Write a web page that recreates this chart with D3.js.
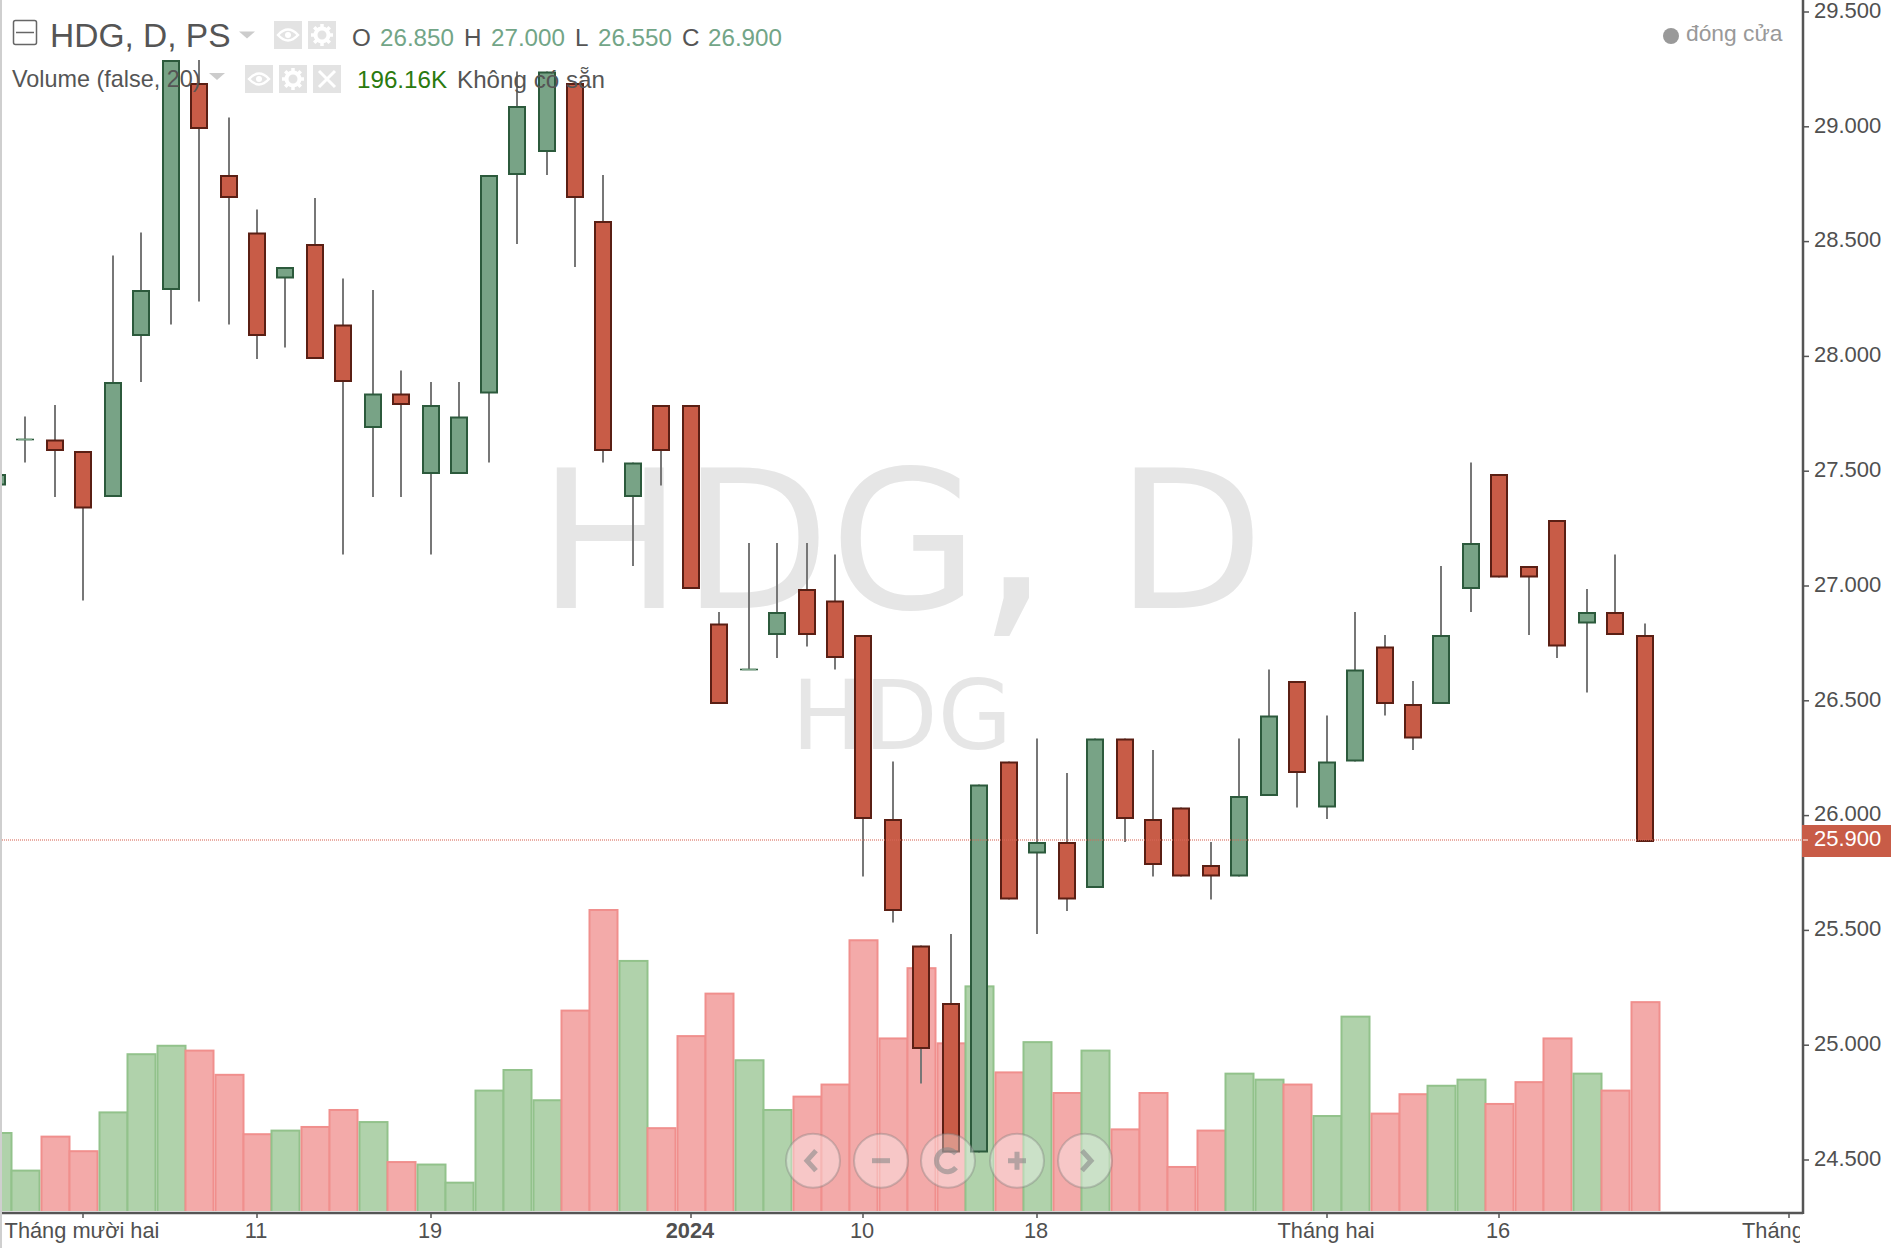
<!DOCTYPE html>
<html><head><meta charset="utf-8">
<script src="https://cdn.jsdelivr.net/npm/d3@7/dist/d3.min.js"></script>
<style>
html,body{margin:0;padding:0;background:#fff;overflow:hidden}
svg{display:block}
text{font-family:"Liberation Sans",Arial,sans-serif}
</style></head><body>
<svg id="c" width="1896" height="1248"></svg>
<script>
const opens  = [27.45,27.65,27.65,27.6,27.4,28.1,28.3,29.2,28.8,28.55,28.35,28.5,28.15,27.7,27.85,27.5,27.5,27.85,28.8,28.9,29.2,28.6,27.4,27.8,27.8,26.85,26.65,26.8,27.0,26.95,26.8,26.0,25.45,25.2,24.55,26.25,25.85,25.9,25.7,26.35,26.0,26.05,25.8,25.75,26.1,26.6,26.05,26.25,26.75,26.5,26.5,27.0,27.5,27.1,27.3,26.85,26.9,26.8];
const highs  = [27.5,27.75,27.8,27.6,28.45,28.55,29.3,29.3,29.05,28.65,28.4,28.7,28.35,28.3,27.95,27.9,27.9,28.8,29.25,29.25,29.2,28.8,27.55,27.8,27.8,26.9,27.2,27.2,27.2,27.15,26.8,26.25,25.45,25.5,26.15,26.25,26.35,26.2,26.35,26.35,26.3,26.05,25.9,26.35,26.65,26.6,26.45,26.9,26.8,26.6,27.1,27.55,27.5,27.1,27.3,27.0,27.15,26.85];
const lows   = [27.45,27.55,27.4,26.95,27.4,27.9,28.15,28.25,28.15,28.0,28.05,28.0,27.15,27.4,27.4,27.15,27.5,27.55,28.5,28.8,28.4,27.55,27.1,27.45,27.0,26.5,26.65,26.7,26.75,26.65,25.75,25.55,24.85,24.55,24.55,25.65,25.5,25.6,25.7,25.9,25.75,25.75,25.65,25.75,26.1,26.05,26.0,26.25,26.45,26.3,26.5,26.9,27.05,26.8,26.7,26.55,26.8,25.9];
const closes = [27.5,27.65,27.6,27.35,27.9,28.3,29.3,29.0,28.7,28.1,28.4,28.0,27.9,27.85,27.8,27.8,27.75,28.8,29.1,29.25,28.7,27.6,27.55,27.6,27.0,26.5,26.65,26.9,26.8,26.7,26.0,25.6,25.0,24.55,26.15,25.65,25.9,25.65,26.35,26.0,25.8,25.75,25.75,26.1,26.45,26.2,26.25,26.65,26.5,26.35,26.8,27.2,27.05,27.05,26.75,26.9,26.8,25.9];
const volumes = [112.6,59.7,107.5,87,141.6,223.5,235.4,228.6,194.5,110.9,116,121.1,145,128,71.7,68.2,42.7,172.3,201.3,158.7,284.9,426.5,354.8,119.4,249,308.8,215,145,163.8,180.8,383.9,245.7,344.6,238.8,319,197.9,240.5,168.9,228.6,117.7,168.9,64.8,116,196.16,187.7,180.8,136.5,276.4,139.9,167.2,179.1,187.7,153.5,184.2,245.7,196.16,172.3,296.8];
const priceTicks = [29.5,29,28.5,28,27.5,27,26.5,26,25.5,25,24.5];
const dateTickIndex = [3,9,15,24,30,36,46,52,62];
const dateTickLabels = ["Tháng mười hai","11","19","2024","10","18","Tháng hai","16","Tháng ba"];
const lastPrice = 25.9;
const legendO = "26.850", legendH = "27.000", legendL = "26.550", legendC = "26.900", legendV = "196.16K";

const svg = d3.select("#c");
const defs = svg.append("defs");
defs.append("clipPath").attr("id","plot").append("rect").attr("x",2).attr("y",0).attr("width",1801).attr("height",1212);
defs.append("clipPath").attr("id","xlab").append("rect").attr("x",0).attr("y",0).attr("width",1800).attr("height",40);

const x = d3.scaleLinear().domain([1,57]).range([25.8,1644.2]);
const sx = v => Math.round((x(v)-1)/2)*2+1;          // candles sit on odd pixels
const y = d3.scaleLinear().domain([29.5,24.5]).range([12,1160]);   // axis
const yC = d3.scaleLinear().domain([29.5,24.5]).range([14,1164]);  // marks
const yV = d3.scaleLinear().domain([0,426.5]).range([1211,908]);
const up = i => closes[i] >= opens[i];
const idx = d3.range(opens.length);

const plot = svg.append("g").attr("clip-path","url(#plot)");
// watermark
const wm = plot.append("text").attr("y",608).attr("fill","#e6e6e6").attr("font-size",192).style("font-family","'DejaVu Sans'");
wm.append("tspan").attr("x","538 682 830").text("HDG");
wm.append("tspan").attr("x",975).attr("font-size",245).text(",");
wm.append("tspan").attr("x","1062 1116").text(" D");
plot.append("text").attr("x",791.6).attr("y",749).attr("font-size",96).attr("fill","#e6e6e6").style("font-family","'DejaVu Sans'").text("HDG");

// volume
plot.append("g").selectAll("rect").data(idx).join("rect")
  .attr("x",i=>sx(i)-13.5).attr("width",28)
  .attr("y",i=>yV(volumes[i])+2).attr("height",i=>yV(0)-yV(volumes[i])-1)
  .attr("fill",i=>up(i)?"#b0d2ab":"#f3aaa9")
  .attr("stroke",i=>up(i)?"#92c28b":"#f08f8d").attr("stroke-width",2);
plot.append("rect").attr("x",0).attr("y",1211).attr("width",1803).attr("height",2).attr("fill","#fff");

// candles
const bodies = idx.filter(i=>opens[i]!==closes[i]);
const dojis = idx.filter(i=>opens[i]===closes[i]);
const cg = plot.append("g");
cg.selectAll("line.w").data(idx).join("line").attr("class","w")
  .attr("x1",i=>sx(i)).attr("x2",i=>sx(i)).attr("y1",i=>yC(highs[i])).attr("y2",i=>yC(lows[i]))
  .attr("stroke","#777").attr("stroke-width",2);
cg.selectAll("rect").data(bodies).join("rect")
  .attr("x",i=>sx(i)-8).attr("width",16)
  .attr("y",i=>yC(Math.max(opens[i],closes[i]))+1).attr("height",i=>Math.abs(yC(opens[i])-yC(closes[i]))-2)
  .attr("fill",i=>up(i)?"#78a386":"#c85c47")
  .attr("stroke",i=>up(i)?"#2c5a3c":"#5a1f14").attr("stroke-width",2);
cg.selectAll("line.d").data(dojis).join("line").attr("class","d")
  .attr("x1",i=>sx(i)-9).attr("x2",i=>sx(i)+9).attr("y1",i=>yC(opens[i])).attr("y2",i=>yC(opens[i]))
  .attr("stroke","#2c5a3c").attr("stroke-width",1.6);
cg.selectAll("line.e").data(dojis).join("line").attr("class","e")
  .attr("x1",i=>sx(i)-7).attr("x2",i=>sx(i)+7).attr("y1",i=>yC(opens[i])).attr("y2",i=>yC(opens[i]))
  .attr("stroke","#78a386").attr("stroke-width",1.6);

// last price line
plot.append("line").attr("x1",0).attr("x2",1803).attr("y1",840).attr("y2",840).datum(lastPrice)
  .attr("stroke","#d9695a").attr("stroke-opacity",.55).attr("stroke-width",2).attr("stroke-dasharray","1 1");

// axes
const axColor="#555";
const yAxis = d3.axisRight(y).tickValues(priceTicks).tickFormat(d3.format(".3f")).tickSize(6).tickPadding(5).offset(0);
const gy = svg.append("g").attr("transform","translate(1803,0)").call(yAxis);
gy.select(".domain").remove();
svg.append("line").attr("x1",1803).attr("x2",1803).attr("y1",0).attr("y2",1214).attr("stroke",axColor).attr("stroke-width",2.5);
gy.selectAll("line").attr("stroke",axColor).attr("stroke-width",1.5);
gy.selectAll("text").attr("font-size",22).attr("fill","#505050").attr("font-family","Liberation Sans").attr("dy","0.26em");

const xAxis = d3.axisBottom(x).tickValues(dateTickIndex).tickFormat((d,i)=>dateTickLabels[i]).tickSize(5).tickPadding(5).offset(0);
const gx = svg.append("g").attr("transform","translate(0,1213)").attr("clip-path","url(#xlab)").call(xAxis);
gx.select(".domain").remove();
gx.selectAll(".tick").attr("transform",d=>`translate(${sx(d)},0)`);
svg.append("line").attr("x1",2).attr("x2",1803).attr("y1",1213).attr("y2",1213).attr("stroke",axColor).attr("stroke-width",2.5);
gx.selectAll("line").attr("stroke",axColor).attr("stroke-width",1.5);
gx.selectAll("text").attr("font-size",21.8).attr("fill","#505050").attr("font-family","Liberation Sans").attr("dx",-1)
  .attr("font-weight",(d,i)=>dateTickLabels[i]==="2024"?"bold":"normal");

// left border
svg.append("rect").attr("x",0).attr("y",0).attr("width",2).attr("height",1248).attr("fill","#cfcfcf");

// last price label
svg.append("rect").attr("x",1802).attr("y",825).attr("width",89).attr("height",32).attr("fill","#c85c47");
svg.append("line").attr("x1",1803).attr("x2",1808).attr("y1",840).attr("y2",840).attr("stroke","#efc4bb").attr("stroke-width",1.5);
svg.append("text").attr("x",1814).attr("y",846).attr("font-size",22).attr("fill","#fff").text(d3.format(".3f")(lastPrice));

// legend top right
svg.append("circle").attr("cx",1671).attr("cy",36).attr("r",8).attr("fill","#999");
svg.append("text").attr("x",1686).attr("y",41).attr("font-size",22.8).attr("fill","#999").text("đóng cửa");

// header
const hdr = svg.append("g");
hdr.append("rect").attr("x",13.5).attr("y",20.5).attr("width",23).attr("height",24).attr("rx",2).attr("fill","none").attr("stroke","#666").attr("stroke-width",1.5);
hdr.append("line").attr("x1",16).attr("x2",34).attr("y1",32.5).attr("y2",32.5).attr("stroke","#666").attr("stroke-width",1.5);
hdr.append("text").attr("x",50).attr("y",47).attr("font-size",33.5).attr("fill","#555").text("HDG, D, PS");
const tri=(cx,cy)=>hdr.append("path").attr("d",`M${cx-8},${cy-3.5}L${cx+8},${cy-3.5}L${cx},${cy+3.5}Z`).attr("fill","#ccc");
tri(247,35); tri(217,76.5);
const box=(bx,by)=>hdr.append("rect").attr("x",bx).attr("y",by).attr("width",28).attr("height",28).attr("fill","#e3e3e3");
const eye=(bx,by)=>{box(bx,by);
  const cx=bx+14,cy=by+14;
  hdr.append("path").attr("d",`M${cx-10},${cy}Q${cx},${cy-11} ${cx+10},${cy}Q${cx},${cy+11} ${cx-10},${cy}Z`).attr("fill","none").attr("stroke","#fff").attr("stroke-width",2.5);
  hdr.append("circle").attr("cx",cx).attr("cy",cy).attr("r",3).attr("fill","#fff");};
const gear=(bx,by)=>{box(bx,by);
  const cx=bx+14,cy=by+14;
  hdr.append("circle").attr("cx",cx).attr("cy",cy).attr("r",6.5).attr("fill","none").attr("stroke","#fff").attr("stroke-width",4);
  d3.range(8).forEach(k=>{const a=k*Math.PI/4;
    hdr.append("line").attr("x1",cx+7*Math.cos(a)).attr("y1",cy+7*Math.sin(a)).attr("x2",cx+11*Math.cos(a)).attr("y2",cy+11*Math.sin(a)).attr("stroke","#fff").attr("stroke-width",3.5);});};
const cross=(bx,by)=>{box(bx,by);
  hdr.append("path").attr("d",`M${bx+6},${by+6}L${bx+22},${by+22}M${bx+22},${by+6}L${bx+6},${by+22}`).attr("stroke","#fff").attr("stroke-width",3);};
eye(274,21); gear(308,21); eye(245,65); gear(279,65); cross(313,65);
const lbl=(tx,ty,s,fs,col)=>hdr.append("text").attr("x",tx).attr("y",ty).attr("font-size",fs).attr("fill",col).text(s);
const gv="#72a587", dk="#555";
lbl(352,46,"O",24.2,dk); lbl(380,46,legendO,24.2,gv);
lbl(464,46,"H",24.2,dk); lbl(491,46,legendH,24.2,gv);
lbl(575,46,"L",24.2,dk); lbl(598,46,legendL,24.2,gv);
lbl(682,46,"C",24.2,dk); lbl(708,46,legendC,24.2,gv);
lbl(12,87,"Volume (false, 20)",23.4,dk);
lbl(357,88,legendV,24.2,"#2a7a0e");
lbl(457,88,"Không có sẵn",24.2,dk);

// zoom buttons
const btnX=[813,881,948,1017,1085], by0=1160.7;
const bg=svg.append("g");
btnX.forEach(cx=>bg.append("circle").attr("cx",cx).attr("cy",by0).attr("r",27).attr("fill","#fff").attr("fill-opacity",.35).attr("stroke","#777").attr("stroke-opacity",.35).attr("stroke-width",2));
const gl="#888";
const gp=(d)=>bg.append("path").attr("d",d).attr("fill","none").attr("stroke",gl).attr("stroke-opacity",.6).attr("stroke-width",5);
gp(`M${btnX[0]+3},${by0-10}L${btnX[0]-6},${by0}L${btnX[0]+3},${by0+10}`);
gp(`M${btnX[1]-9},${by0}L${btnX[1]+9},${by0}`);
gp(`M${btnX[2]+8},${by0-7}A11,11 0 1 0 ${btnX[2]+8},${by0+7}`);
gp(`M${btnX[3]-9},${by0}L${btnX[3]+9},${by0}M${btnX[3]},${by0-9}L${btnX[3]},${by0+9}`);
gp(`M${btnX[4]-3},${by0-10}L${btnX[4]+6},${by0}L${btnX[4]-3},${by0+10}`);
</script>
</body></html>
